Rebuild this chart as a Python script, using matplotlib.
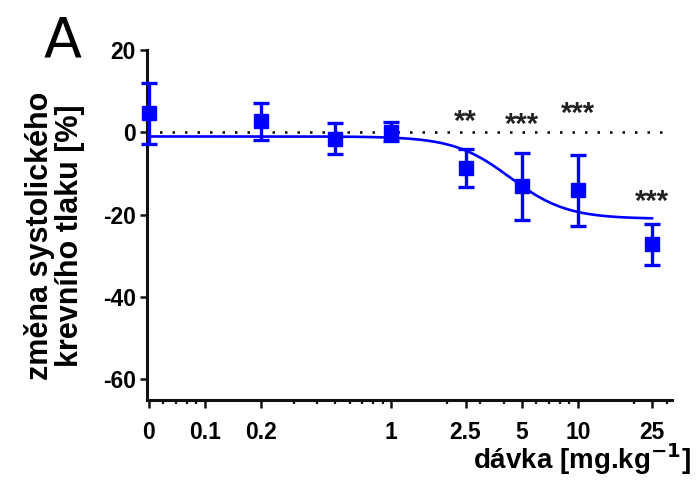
import numpy as np
import matplotlib
matplotlib.use("Agg")
import matplotlib.pyplot as plt
from matplotlib.ticker import FixedLocator, LogLocator, NullFormatter

plt.rcParams['font.family'] = ['Liberation Sans', 'DejaVu Sans']
plt.rcParams['axes.unicode_minus'] = False

# dose groups (0 is drawn at 0.05 on the log axis)
doses = [0.05, 0.2, 0.5, 1, 2.5, 5, 10, 25]
means = [4.6, 2.7, -1.5, 0.2, -8.7, -13.1, -14.1, -27.2]
errs = [7.5, 4.5, 3.7, 2.2, 4.6, 8.2, 8.6, 5.0]

# fitted sigmoid parameters
fit_top = -1.0
fit_bottom = -21.0
fit_logec50 = 0.638
fit_hill = 2.87

# significance marks
star_x = [2.5, 5, 10, 25]
star_y = [2.5, 1.8, 4.4, -17.0]
star_txt = ['**', '***', '***', '***']

tick_pos = [0.05, 0.1, 0.2, 1, 2.5, 5, 10, 25]
tick_lab = ['0', '0.1', '0.2', '1', '2.5', '5', '10', '25']

fig = plt.figure(figsize=(6.97, 4.93), dpi=100)
ax = fig.add_axes([147/697, 1 - 400/493, 525/697, 350/493])

blue = '#0000ff'

# zero reference line
ax.axhline(0, color='black', lw=1.8, ls=(0, (1, 4)), zorder=1)

xs = np.logspace(np.log10(0.05), np.log10(25), 300)
ys = fit_bottom + (fit_top - fit_bottom) / (1 + 10 ** ((np.log10(xs) - fit_logec50) * fit_hill))
ax.plot(xs, ys, color=blue, lw=1.9, zorder=2)

ax.errorbar(doses, means, yerr=errs, fmt='s', color=blue, ms=9.5, elinewidth=2.4,
            capsize=6, capthick=2.4, zorder=3, clip_on=False)

for x, y, t in zip(star_x, star_y, star_txt):
    ax.text(x, y, t, ha='center', va='center', fontsize=21, color='#222222',
            fontweight='bold')

ax.set_xscale('log')
ax.set_xlim(0.049, 32)
ax.set_ylim(-65, 20)
ax.set_yticks([20, 0, -20, -40, -60])
ax.xaxis.set_major_locator(FixedLocator(tick_pos))
ax.set_xticklabels(tick_lab)
ax.xaxis.set_minor_locator(LogLocator(base=10, subs=np.arange(2, 10)))
ax.xaxis.set_minor_formatter(NullFormatter())

for s in ['top', 'right']:
    ax.spines[s].set_visible(False)
for s in ['left', 'bottom']:
    ax.spines[s].set_linewidth(2.2)
    ax.spines[s].set_color('#111111')
ax.spines['left'].set_bounds(-65, 20)

ax.tick_params(axis='both', which='major', length=5, width=1.8, labelsize=16.5,
               color='#111111', direction='out', pad=3)
ax.tick_params(axis='x', which='major', length=6, pad=9)
ax.tick_params(axis='x', which='minor', length=3, width=1.6, color='#111111')
for lab in ax.get_xticklabels() + ax.get_yticklabels():
    lab.set_fontweight('bold')

ax.set_ylabel('změna systolického\nkrevního tlaku [%]', fontsize=22, fontweight='bold',
              linespacing=1.0)
ax.yaxis.set_label_coords(-0.118, 0.47)

fig.text(0.992, 0.068, 'dávka [mg.kg$^{\\mathbf{-1}}$]', ha='right', va='center',
         fontsize=20, fontweight='bold')
fig.text(0.062, 0.915, 'A', fontsize=40, ha='left', va='center', family='DejaVu Sans')

fig.savefig('out.png', dpi=100)
